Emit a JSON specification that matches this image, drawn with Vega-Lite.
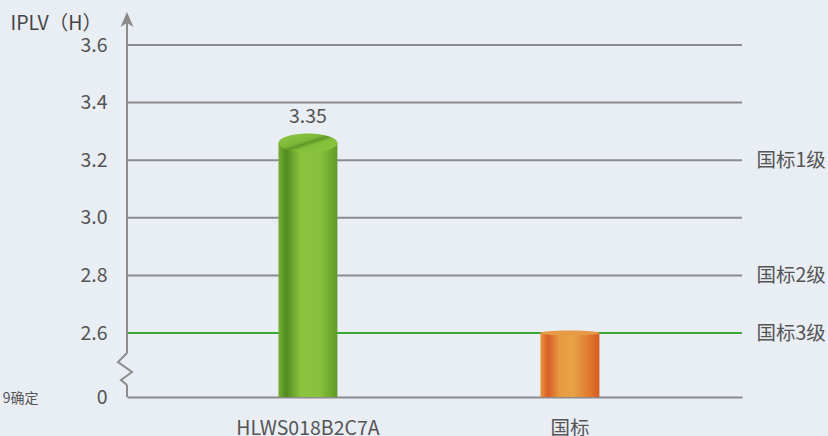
{
  "$schema": "https://vega.github.io/schema/vega-lite/v6.json",
  "width": 615,
  "height": 385,
  "autosize": {"type": "none"},
  "padding": {"left": 127, "top": 12, "right": 86, "bottom": 39},
  "background": "#e9edf4",
  "config": {"view": {"stroke": null}, "font": "Noto Sans CJK SC"},
  "datasets": {
    "bars": [
      {"name": "HLWS018B2C7A", "value": 3.26, "label": 3.35},
      {"name": "国标", "value": 2.6, "label": null}
    ],
    "grid": [{"v": 3.6}, {"v": 3.4}, {"v": 3.2}, {"v": 3.0}, {"v": 2.8}, {"v": 2.6}]
  },
  "resolve": {"scale": {"x": "independent"}, "axis": {"x": "independent", "y": "independent"}},
  "layer": [
    {
      "data": {"name": "grid"},
      "mark": {"type": "rule", "strokeWidth": 2},
      "encoding": {
        "y": {
          "field": "v", "type": "quantitative",
          "scale": {"domain": [0, 2.6, 3.6], "range": [385, 321, 33], "zero": false, "nice": false},
          "axis": {
            "orient": "left", "values": [0, 2.6, 2.8, 3.0, 3.2, 3.4, 3.6],
            "labelExpr": "datum.value == 0 ? '0' : format(datum.value, '.1f')",
            "grid": false, "ticks": false, "domain": false,
            "labelPadding": 20, "labelFontSize": 19.5, "labelColor": "#555555",
            "title": "IPLV（H）", "titleAngle": 0, "titleX": -117, "titleY": 11,
            "titleAlign": "left", "titleBaseline": "middle", "titleFontSize": 19.5,
            "titleFontWeight": "normal", "titleColor": "#444444"
          }
        },
        "stroke": {"condition": {"test": "datum.v == 2.6", "value": "#3aaa35"}, "value": "#8c8c8c"}
      }
    },
    {
      "data": {"name": "bars"},
      "transform": [{"filter": "datum.name == 'HLWS018B2C7A'"}],
      "mark": {
        "type": "bar",
        "fill": {"gradient": "linear", "x1": 0, "x2": 1, "y1": 0, "y2": 0,
          "stops": [
            {"offset": 0, "color": "#79b033"},
            {"offset": 0.13, "color": "#4f8b1f"},
            {"offset": 0.38, "color": "#8cc43f"},
            {"offset": 0.7, "color": "#88c13c"},
            {"offset": 1, "color": "#5f9b26"}
          ]}
      },
      "encoding": {
        "x": {
          "field": "name", "type": "nominal", "sort": null,
          "scale": {"type": "band", "domain": ["HLWS018B2C7A", "国标"], "paddingInner": 0.775, "paddingOuter": 0.561, "align": 0.515},
          "axis": {
            "orient": "bottom", "labelAngle": 0, "labelFontSize": 19.5, "labelPadding": 22,
            "labelColor": "#555555", "ticks": false, "domainColor": "#8c8c8c", "domainWidth": 2,
            "title": "9确定", "titleX": -89, "titleY": 1, "titleAlign": "right",
            "titleBaseline": "middle", "titleFontSize": 14, "titleFontWeight": "normal", "titleColor": "#555555"
          }
        },
        "y": {
          "field": "value", "type": "quantitative",
          "scale": {"domain": [0, 2.6, 3.6], "range": [385, 321, 33], "zero": false, "nice": false},
          "axis": {
            "orient": "right", "values": [2.6, 2.8, 3.2],
            "labelExpr": "datum.value == 3.2 ? '国标1级' : datum.value == 2.8 ? '国标2级' : '国标3级'",
            "grid": false, "ticks": false, "domain": false, "title": null,
            "labelPadding": 14, "labelFontSize": 19.5, "labelColor": "#555555"
          }
        },
        "y2": {"datum": 0}
      }
    },
    {
      "data": {"name": "bars"},
      "transform": [{"filter": "datum.name == '国标'"}],
      "mark": {
        "type": "bar",
        "fill": {"gradient": "linear", "x1": 0, "x2": 1, "y1": 0, "y2": 0,
          "stops": [
            {"offset": 0, "color": "#e8973a"},
            {"offset": 0.13, "color": "#d95c26"},
            {"offset": 0.32, "color": "#e79a40"},
            {"offset": 0.55, "color": "#e8a346"},
            {"offset": 0.82, "color": "#e0792f"},
            {"offset": 1, "color": "#d75a25"}
          ]}
      },
      "encoding": {
        "x": {
          "field": "name", "type": "nominal", "sort": null,
          "scale": {"type": "band", "domain": ["HLWS018B2C7A", "国标"], "paddingInner": 0.775, "paddingOuter": 0.561, "align": 0.515},
          "axis": null
        },
        "y": {
          "field": "value", "type": "quantitative",
          "scale": {"domain": [0, 2.6, 3.6], "range": [385, 321, 33], "zero": false, "nice": false},
          "axis": null
        },
        "y2": {"datum": 0}
      }
    },
    {
      "data": {"name": "bars"},
      "transform": [{"filter": "datum.name == 'HLWS018B2C7A'"}],
      "mark": {
        "type": "point", "filled": true, "size": 4, "opacity": 1, "strokeWidth": 0,
        "shape": "M-29.5,0 C-29.5,-5.25 -16.29,-9.5 0,-9.5 C16.29,-9.5 29.5,-5.25 29.5,0 C29.5,5.25 16.29,9.5 0,9.5 C-16.29,9.5 -29.5,5.25 -29.5,0 Z",
        "fill": {"gradient": "linear", "x1": 0, "x2": 1, "y1": 0, "y2": 1,
          "stops": [
            {"offset": 0, "color": "#93ca47"},
            {"offset": 0.42, "color": "#7cb636"},
            {"offset": 0.5, "color": "#5e9828"},
            {"offset": 0.6, "color": "#84be3b"},
            {"offset": 1, "color": "#8dc540"}
          ]}
      },
      "encoding": {
        "x": {
          "field": "name", "type": "nominal", "sort": null,
          "scale": {"type": "band", "domain": ["HLWS018B2C7A", "国标"], "paddingInner": 0.775, "paddingOuter": 0.561, "align": 0.515},
          "axis": null
        },
        "y": {
          "field": "value", "type": "quantitative",
          "scale": {"domain": [0, 2.6, 3.6], "range": [385, 321, 33], "zero": false, "nice": false},
          "axis": null
        }
      }
    },
    {
      "data": {"name": "bars"},
      "transform": [{"filter": "datum.name == '国标'"}],
      "mark": {
        "type": "point", "filled": true, "size": 4, "opacity": 1, "strokeWidth": 0,
        "shape": "M-29.5,0 C-29.5,-1.4 -16.29,-2.5 0,-2.5 C16.29,-2.5 29.5,-1.4 29.5,0 C29.5,1.4 16.29,2.5 0,2.5 C-16.29,2.5 -29.5,1.4 -29.5,0 Z",
        "fill": "#e69a45"
      },
      "encoding": {
        "x": {
          "field": "name", "type": "nominal", "sort": null,
          "scale": {"type": "band", "domain": ["HLWS018B2C7A", "国标"], "paddingInner": 0.775, "paddingOuter": 0.561, "align": 0.515},
          "axis": null
        },
        "y": {
          "field": "value", "type": "quantitative",
          "scale": {"domain": [0, 2.6, 3.6], "range": [385, 321, 33], "zero": false, "nice": false},
          "axis": null
        }
      }
    },
    {
      "data": {"name": "bars"},
      "transform": [{"filter": "datum.label != null"}],
      "mark": {"type": "text", "fontSize": 19.5, "color": "#555555", "baseline": "middle", "align": "center"},
      "encoding": {
        "x": {
          "field": "name", "type": "nominal", "sort": null,
          "scale": {"type": "band", "domain": ["HLWS018B2C7A", "国标"], "paddingInner": 0.775, "paddingOuter": 0.561, "align": 0.515},
          "axis": null
        },
        "y": {
          "field": "label", "type": "quantitative",
          "scale": {"domain": [0, 2.6, 3.6], "range": [385, 321, 33], "zero": false, "nice": false},
          "axis": null
        },
        "text": {"field": "label", "type": "quantitative", "format": ".2f"}
      }
    },
    {
      "data": {"values": [{"lo": 1.7875, "hi": 3.687}, {"lo": 0, "hi": 0.4875}]},
      "mark": {"type": "rule", "stroke": "#8c8c8c", "strokeWidth": 2},
      "encoding": {
        "x": {"datum": 0, "type": "quantitative", "scale": {"domain": [0, 1]}, "axis": null},
        "y": {
          "field": "lo", "type": "quantitative",
          "scale": {"domain": [0, 2.6, 3.6], "range": [385, 321, 33], "zero": false, "nice": false},
          "axis": null
        },
        "y2": {"field": "hi"}
      }
    },
    {
      "data": {"values": [{"y": 1.1375}]},
      "mark": {
        "type": "point", "filled": false, "size": 4, "opacity": 1, "stroke": "#8c8c8c", "strokeWidth": 2,
        "shape": "M0,-16 L-9,-7 L5,3 L-6,11 L0,16"
      },
      "encoding": {
        "x": {"datum": 0, "type": "quantitative", "scale": {"domain": [0, 1]}, "axis": null},
        "y": {
          "field": "y", "type": "quantitative",
          "scale": {"domain": [0, 2.6, 3.6], "range": [385, 321, 33], "zero": false, "nice": false},
          "axis": null
        }
      }
    },
    {
      "data": {"values": [{"y": 3.687}]},
      "mark": {
        "type": "point", "filled": true, "size": 4, "opacity": 1, "fill": "#8c8c8c", "strokeWidth": 0,
        "shape": "M0,-8 L6.5,7 L0,3 L-6.5,7 Z"
      },
      "encoding": {
        "x": {"datum": 0, "type": "quantitative", "scale": {"domain": [0, 1]}, "axis": null},
        "y": {
          "field": "y", "type": "quantitative",
          "scale": {"domain": [0, 2.6, 3.6], "range": [385, 321, 33], "zero": false, "nice": false},
          "axis": null
        }
      }
    }
  ]
}
